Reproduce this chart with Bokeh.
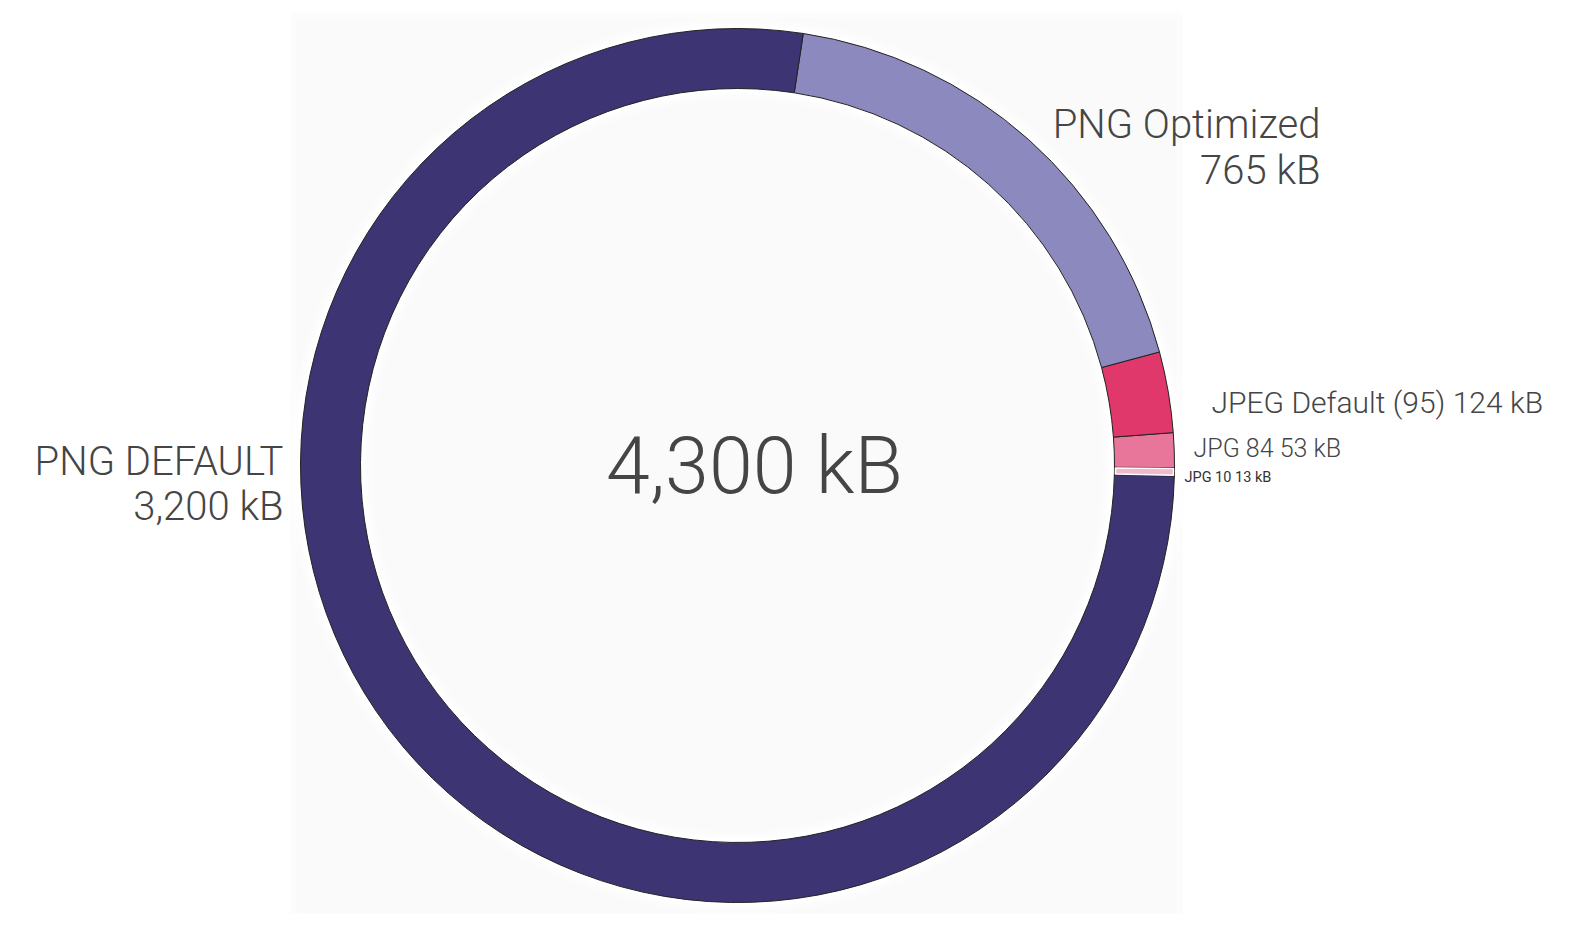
import numpy as np
from bokeh.plotting import figure
from bokeh.models import Range1d, ColumnDataSource
from bokeh.core.properties import value
from bokeh.embed import file_html
from bokeh.resources import INLINE

# ---- data ----
names = ["JPG 10", "JPG 84", "JPEG Default (95)", "PNG Optimized", "PNG DEFAULT"]
sizes_kb = [13, 53, 124, 765, 3200]
colors = ["#f4b8cd", "#e8769a", "#e0386a", "#8b89bd", "#3d3573"]
total_label = "4,300 kB"

W, H = 1556, 914
FONT = value("Roboto Light")
TXT = "#454545"

def sx(x):
    return x

def sy(y):
    return H - y

p = figure(width=W, height=H, output_backend="svg", toolbar_location=None,
           x_range=Range1d(0, W), y_range=Range1d(0, H), min_border=0)
p.axis.visible = False
p.grid.visible = False
p.outline_line_color = None
p.background_fill_color = "white"
p.border_fill_color = "white"

cx, cy = sx(737), sy(465)
r_out, r_in = 437, 377

# faint background panel with soft edges
for d, c in [(0, "#fcfcfc"), (6, "#fafafa")]:
    p.quad(left=[sx(290 + d)], right=[sx(1182 - d)], bottom=[sy(918 - d)], top=[sy(12 + d)],
           fill_color=c, line_color=None)

# soft white glow around the ring
for k, a in [(12, 0.3), (9, 0.4), (6, 0.6), (3, 0.9)]:
    p.annular_wedge(x=[cx], y=[cy], inner_radius=r_out, outer_radius=r_out + k,
                    start_angle=[0], end_angle=[2 * np.pi],
                    fill_color="white", fill_alpha=a, line_color=None)
    p.annular_wedge(x=[cx], y=[cy], inner_radius=r_in - k, outer_radius=r_in,
                    start_angle=[0], end_angle=[2 * np.pi],
                    fill_color="white", fill_alpha=a, line_color=None)

vals = np.array(sizes_kb, dtype=float)
frac = vals / vals.sum()
start0 = np.deg2rad(-1.4)
ends = start0 + np.cumsum(frac) * 2 * np.pi
starts = np.concatenate([[start0], ends[:-1]])

src = ColumnDataSource(dict(start=starts, end=ends, color=colors))
p.annular_wedge(x=cx, y=cy, inner_radius=r_in, outer_radius=r_out,
                start_angle="start", end_angle="end", fill_color="color",
                line_color="#222222", line_width=1, source=src)
# white rim for the thinnest slice
p.annular_wedge(x=cx, y=cy, inner_radius=r_in + 1, outer_radius=r_out - 1,
                start_angle=starts[0] + 0.002, end_angle=ends[0] - 0.002,
                fill_color=colors[0], line_color="white", line_width=1.5)

def lab(x, y, t, size, align, font=FONT, color=TXT):
    # y is the desired baseline in page pixels; compensate renderer baseline offset
    p.text(x=[sx(x)], y=[sy(y - 0.35 * size)], text=[t], text_font=font,
           text_font_size=f"{size}px", text_color=color, text_align=align,
           text_baseline="alphabetic")

# center total
lab(754, 493, total_label, 79, "center")

# labels
lab(283, 475, names[4], 40, "right")
lab(283, 520, f"{sizes_kb[4]:,} kB", 40, "right")
lab(1320, 138, names[3], 40, "right")
lab(1320, 184, f"{sizes_kb[3]:,} kB", 40, "right")
lab(1211, 412, f"{names[2]} {sizes_kb[2]} kB", 30, "left")
lab(1193, 457, f"{names[1]} {sizes_kb[1]} kB", 25, "left")
lab(1184, 482, f"{names[0]} {sizes_kb[0]} kB", 14.5, "left", font=value("Roboto"), color="#333333")

open("out.html", "w").write(file_html(p, INLINE))
